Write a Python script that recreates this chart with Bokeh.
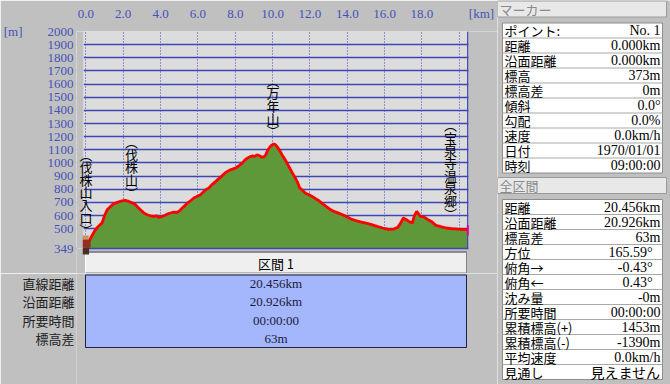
from bokeh.plotting import figure
from bokeh.models import Range1d, FixedTicker, Span, ColumnDataSource, BoxAnnotation
from bokeh.layouts import row, column
from bokeh.embed import file_html
from bokeh.resources import INLINE
from bokeh.core.properties import value

# ---------------- data ----------------
dist_km = [0.0, 0.15, 0.3, 0.5, 0.65, 0.87, 1.0, 1.14, 1.32, 1.5, 1.68, 1.94, 2.1, 2.3, 2.5,
           2.66, 2.8, 2.92, 3.1, 3.28, 3.45, 3.64, 3.8, 3.9, 4.05, 4.17, 4.35, 4.53, 4.7, 4.89,
           5.05, 5.16, 5.3, 5.43, 5.6, 5.78, 6.0, 6.14, 6.3, 6.45, 6.58, 6.75, 6.94, 7.2, 7.47,
           7.7, 8.01, 8.2, 8.37, 8.5, 8.64, 8.8, 8.9, 9.05, 9.17, 9.3, 9.44, 9.55, 9.63, 9.75,
           9.9, 10.06, 10.15, 10.24, 10.4, 10.51, 10.65, 10.78, 10.9, 11.05, 11.2, 11.32, 11.45,
           11.6, 11.76, 11.95, 12.12, 12.3, 12.47, 12.65, 12.83, 13.05, 13.28, 13.5, 13.75, 14.0,
           14.2, 14.5, 14.75, 15.0, 15.3, 15.6, 15.9, 16.2, 16.5, 16.7, 16.85, 17.0, 17.15, 17.3,
           17.48, 17.6, 17.72, 17.85, 17.93, 18.1, 18.3, 18.5, 18.75, 19.0, 19.3, 19.6, 19.9,
           20.2, 20.456]
elev_m = [373, 400, 440, 490, 515, 545, 600, 644, 669, 690, 700, 712, 715, 707, 695,
          682, 660, 644, 620, 606, 598, 593, 598, 585, 592, 598, 610, 619, 625, 623,
          640, 657, 675, 695, 712, 733, 748, 758, 780, 800, 808, 835, 858, 890, 926,
          945, 960, 980, 998, 1020, 1036, 1048, 1053, 1050, 1061, 1055, 1043, 1048, 1061, 1100,
          1129, 1144, 1140, 1124, 1090, 1061, 1030, 998, 965, 926, 890, 858, 810,
          792, 770, 758, 745, 728, 714, 692, 674, 650, 631, 620, 606, 588,
          573, 560, 550, 543, 530, 517, 505, 495, 497, 510, 540, 581, 570, 555,
          543, 600, 631, 605, 593, 590, 570, 555, 525, 515, 505, 500, 497,
          495, 492]

waypoint_names = ["伐株山入口", "伐株山", "万年山", "宝泉寺温泉郷"]
waypoint_km = [0.0, 2.44, 10.02, 19.53]

x_ticks = [0, 2, 4, 6, 8, 10, 12, 14, 16, 18, 20]
x_tick_labels = ["0.0", "2.0", "4.0", "6.0", "8.0", "10.0", "12.0", "14.0", "16.0", "18.0", ""]
x_unit = "[km]"
y_ticks = [349, 500, 600, 700, 800, 900, 1000, 1100, 1200, 1300, 1400, 1500, 1600, 1700, 1800, 1900, 2000]
y_unit = "[m]"

section_title = "区間 1"
section_labels = ["直線距離", "沿面距離", "所要時間", "標高差"]
section_values = ["20.456km", "20.926km", "00:00:00", "63m"]

marker_title = "マーカー"
marker_labels = ["ポイント:", "距離", "沿面距離", "標高", "標高差", "傾斜", "勾配", "速度", "日付", "時刻"]
marker_values = ["No. 1", "0.000km", "0.000km", "373m", "0m", "0.0°", "0.0%", "0.0km/h", "1970/01/01", "09:00:00"]

total_title = "全区間"
total_labels = ["距離", "沿面距離", "標高差", "方位", "俯角→", "俯角←", "沈み量", "所要時間",
                "累積標高(+)", "累積標高(-)", "平均速度", "見通し"]
total_values = ["20.456km", "20.926km", "63m", "165.59°", "-0.43°", "0.43°", "-0m", "00:00:00",
                "1453m", "-1390m", "0.0km/h", "見えません"]

# ---------------- style / layout constants ----------------
BG = "#c0c0c0"
PLOT_BG = "#dcdcdc"
GRID_BLUE = "#3c46b4"
LABEL_BLUE = "#4452b8"
GREEN = "#5f9838"
JP = "Noto Sans CJK JP"
NUM = "Liberation Serif"

LEFT_W = 497          # width of the left part (profile + section table)
A_H = 273             # height of the profile figure (includes the section header)
FRAME_L = 76          # left edge of the profile frame (px)
KM0_PX = 85.4         # pixel of km 0
PX_PER_KM = 18.67
PLOT_L_PX, PLOT_R_PX = 83, 468     # visible plot area
UNIT_PX = 481                      # centre of the [km] unit text
WP_LABEL_CENTER_PX = [191.5, 166.5, 105, 168.5]   # vertical centre of waypoint labels
FRAME_T, PLOT_B = 31, 248
SEC_L, SEC_R, SEC_HEAD_T, SEC_TOP, SEC_PITCH = 85, 466, 251, 274, 18.25


def px2km(px):
    return (px - KM0_PX) / PX_PER_KM


Y_MIN, Y_MAX = y_ticks[0], y_ticks[-1]
M_PER_PX = (Y_MAX - Y_MIN) / (PLOT_B - FRAME_T)


def py2m(py):
    return Y_MIN + (PLOT_B - py) * M_PER_PX


# ---------------- profile figure ----------------
pA = figure(width=LEFT_W, height=A_H,
            x_range=Range1d(px2km(FRAME_L), px2km(LEFT_W)), y_range=Range1d(py2m(A_H), Y_MAX),
            x_axis_location="above", output_backend="svg", toolbar_location=None,
            min_border_left=FRAME_L, min_border_right=0, min_border_top=FRAME_T,
            min_border_bottom=0,
            background_fill_color=PLOT_BG, border_fill_color=BG, outline_line_color=None)

unit_km = px2km(UNIT_PX)
pA.xaxis.ticker = FixedTicker(ticks=x_ticks + [unit_km])
overrides = {t: l for t, l in zip(x_ticks, x_tick_labels)}
overrides[unit_km] = x_unit
pA.xaxis.major_label_overrides = overrides
pA.yaxis.ticker = FixedTicker(ticks=y_ticks)
for ax in (pA.xaxis[0], pA.yaxis[0]):
    ax.axis_line_color = None
    ax.major_tick_line_color = None
    ax.minor_tick_line_color = None
    ax.major_tick_out = 0
    ax.major_tick_in = 0
    ax.major_label_text_color = LABEL_BLUE
    ax.major_label_text_font = NUM
    ax.major_label_text_font_size = "13px"
pA.xaxis.major_label_standoff = 11
pA.yaxis.major_label_standoff = 3

ya = pA.yaxis[0]
ya.axis_label = y_unit
ya.axis_label_text_font = NUM
ya.axis_label_text_font_size = "13px"
ya.axis_label_text_font_style = "normal"
ya.axis_label_text_color = LABEL_BLUE
ya.axis_label_standoff = 22
try:
    ya.axis_label_orientation = "horizontal"
except Exception:
    pass
try:
    ya.axis_label_align = "end"
except Exception:
    pass

pA.xgrid.ticker = FixedTicker(ticks=x_ticks)
pA.xgrid.grid_line_color = GRID_BLUE
pA.xgrid.grid_line_dash = "1 2"
pA.xgrid.grid_line_width = 1
pA.ygrid.ticker = FixedTicker(ticks=y_ticks)
pA.ygrid.grid_line_color = GRID_BLUE
pA.ygrid.grid_line_width = 1.3

src = ColumnDataSource(dict(km=dist_km, elev=elev_m))
pA.varea(x="km", y1=Y_MIN, y2="elev", source=src, fill_color=GREEN)
pA.line(x="km", y="elev", source=src, line_color="#ff0000", line_width=2.8)

# plot right border, then hide the parts of the frame outside the plot area
pA.add_layout(Span(location=dist_km[-1], dimension="height", line_color=GRID_BLUE, line_width=1.5))
pA.add_layout(BoxAnnotation(top=Y_MIN, fill_color=BG, fill_alpha=1.0, line_color=None))
pA.add_layout(Span(location=Y_MIN, dimension="width", line_color=GRID_BLUE, line_width=1.3))
pA.add_layout(BoxAnnotation(left=px2km(PLOT_R_PX), fill_color=BG, fill_alpha=1.0, line_color=None))
pA.add_layout(BoxAnnotation(right=px2km(PLOT_L_PX), fill_color=BG, fill_alpha=1.0, line_color=None))
pA.add_layout(BoxAnnotation(right=px2km(PLOT_L_PX), top=Y_MAX, bottom=Y_MIN, fill_color=BG,
                            fill_alpha=1.0, line_color="#ffffff", line_width=1))

r_end = pA.segment(x0=[dist_km[-1]], y0=[elev_m[-1] - 45], x1=[dist_km[-1]], y1=[elev_m[-1] + 35],
                   line_color="#e000a0", line_width=2)

# section header (button-like strip)
r_h1 = pA.quad(left=[px2km(SEC_L)], right=[px2km(SEC_R)], top=[py2m(SEC_HEAD_T)], bottom=[py2m(SEC_TOP)],
               fill_color="#efefef", line_color=None)
r_h2 = pA.segment(x0=[px2km(SEC_L), px2km(SEC_L), px2km(SEC_R), px2km(SEC_L)],
                  y0=[py2m(SEC_HEAD_T + 0.5), py2m(SEC_HEAD_T), py2m(SEC_HEAD_T), py2m(SEC_TOP - 1.5)],
                  x1=[px2km(SEC_R), px2km(SEC_L), px2km(SEC_R), px2km(SEC_R)],
                  y1=[py2m(SEC_HEAD_T + 0.5), py2m(SEC_TOP), py2m(SEC_TOP), py2m(SEC_TOP - 1.5)],
                  line_color=["#303040", "#ffffff", "#808080", "#808080"], line_width=1)
r_h3 = pA.text(x=[px2km((SEC_L + SEC_R) / 2)], y=[py2m((SEC_HEAD_T + SEC_TOP) / 2)], text=[section_title],
               text_font=value(JP), text_font_size="13px",
               text_align="center", text_baseline="middle", text_color="#000000")

# small hiker icon at the start point
hx = px2km(KM0_PX)
hk = [hx - 0.17, hx - 0.06, hx - 0.17, hx - 0.17]
hk2 = [hx + 0.15, hx + 0.15, hx + 0.25, hx + 0.17]
ht = [py2m(235), py2m(238), py2m(239), py2m(247)]
hb = [py2m(239), py2m(241), py2m(247), py2m(254)]
r_hk = pA.quad(left=hk, right=hk2, top=ht, bottom=hb,
               fill_color=["#c89060", "#d8a878", "#9a2a1c", "#4a3020"], line_color=None)

vert_texts = ["︵\n" + "\n".join(n) + "\n︶" for n in waypoint_names]
r_wp = pA.text(x=waypoint_km, y=[py2m(p) for p in WP_LABEL_CENTER_PX], text=vert_texts,
               text_font=value(JP), text_font_size="13px", text_align="center",
               text_baseline="middle", text_line_height=0.665, text_color="#000000")
for r in (r_end, r_h1, r_h2, r_h3, r_hk, r_wp):
    r.level = "overlay"

# ---------------- section table (below profile) ----------------
nrow = len(section_labels)
row_y = [SEC_TOP + (i + 0.5) * SEC_PITCH for i in range(nrow)]
pB = figure(width=LEFT_W, height=384 - A_H, x_range=Range1d(FRAME_L, LEFT_W), y_range=Range1d(384, A_H),
            output_backend="svg", toolbar_location=None,
            min_border_left=FRAME_L, min_border_right=0, min_border_top=0, min_border_bottom=0,
            background_fill_color=BG, border_fill_color=BG, outline_line_color=None)
pB.xaxis.visible = False
pB.grid.visible = False
yb = pB.yaxis[0]
yb.ticker = FixedTicker(ticks=row_y)
yb.major_label_overrides = {y: l for y, l in zip(row_y, section_labels)}
yb.axis_line_color = None
yb.major_tick_line_color = None
yb.minor_tick_line_color = None
yb.major_tick_out = 0
yb.major_tick_in = 0
yb.major_label_standoff = 2
yb.major_label_text_font = JP
yb.major_label_text_font_size = "13px"
yb.major_label_text_color = "#202020"

pB.quad(left=[SEC_L], right=[SEC_R], top=[SEC_TOP + 0.5], bottom=[SEC_TOP + nrow * SEC_PITCH],
        fill_color="#a4b6fc", line_color="#202040", line_width=1)
pB.text(x=[(SEC_L + SEC_R) / 2] * nrow, y=row_y, text=section_values, text_font=value(NUM),
        text_font_size="13px", text_align="center", text_baseline="middle", text_color="#1a1a40")

# ---------------- right panel ----------------
pC = figure(width=173, height=384, x_range=Range1d(0, 173), y_range=Range1d(384, 0),
            output_backend="svg", toolbar_location=None, min_border=0,
            min_border_left=0, min_border_right=0, min_border_top=0, min_border_bottom=0,
            background_fill_color=BG, border_fill_color=BG, outline_line_color=None)
pC.axis.visible = False
pC.grid.visible = False


def panel(title, top, labels, values, pitch=15.0, deg_shift=0):
    pC.quad(left=[0], right=[169], top=[top], bottom=[top + 16], fill_color="#e8e8e8",
            line_color="#9a9a9a", line_width=1)
    pC.text(x=[2], y=[top + 8], text=[title], text_font=value(JP), text_font_size="13px",
            text_align="left", text_baseline="middle", text_color="#8a8a8a")
    t0 = top + 22
    n = len(labels)
    pC.quad(left=[5], right=[165], top=[t0], bottom=[t0 + n * pitch], fill_color="#ffffff",
            line_color="#8c8c8c", line_width=1)
    ys_line = [t0 + i * pitch for i in range(1, n)]
    pC.segment(x0=[5] * (n - 1), y0=ys_line, x1=[165] * (n - 1), y1=ys_line,
               line_color="#a8a8a8", line_width=1)
    ys = [t0 + (i + 0.5) * pitch for i in range(n)]
    pC.text(x=[7] * n, y=ys, text=labels, text_font=value(JP), text_font_size="13px",
            text_align="left", text_baseline="middle", text_color="#000000")
    xs = [163 - deg_shift if v.endswith("°") else 163 for v in values]
    fonts = [JP if any(ord(c) > 0x3000 for c in v) else NUM for v in values]
    vsrc = ColumnDataSource(dict(x=xs, y=ys, t=values, f=fonts))
    pC.text(x="x", y="y", text="t", text_font="f", source=vsrc, text_font_size="14px",
            text_align="right", text_baseline="middle", text_color="#000000")


panel(marker_title, 0.5, marker_labels, marker_values)
panel(total_title, 177, total_labels, total_values, deg_shift=8)

layout = row(column(pA, pB), pC)
open("out.html", "w").write(file_html(layout, INLINE))
